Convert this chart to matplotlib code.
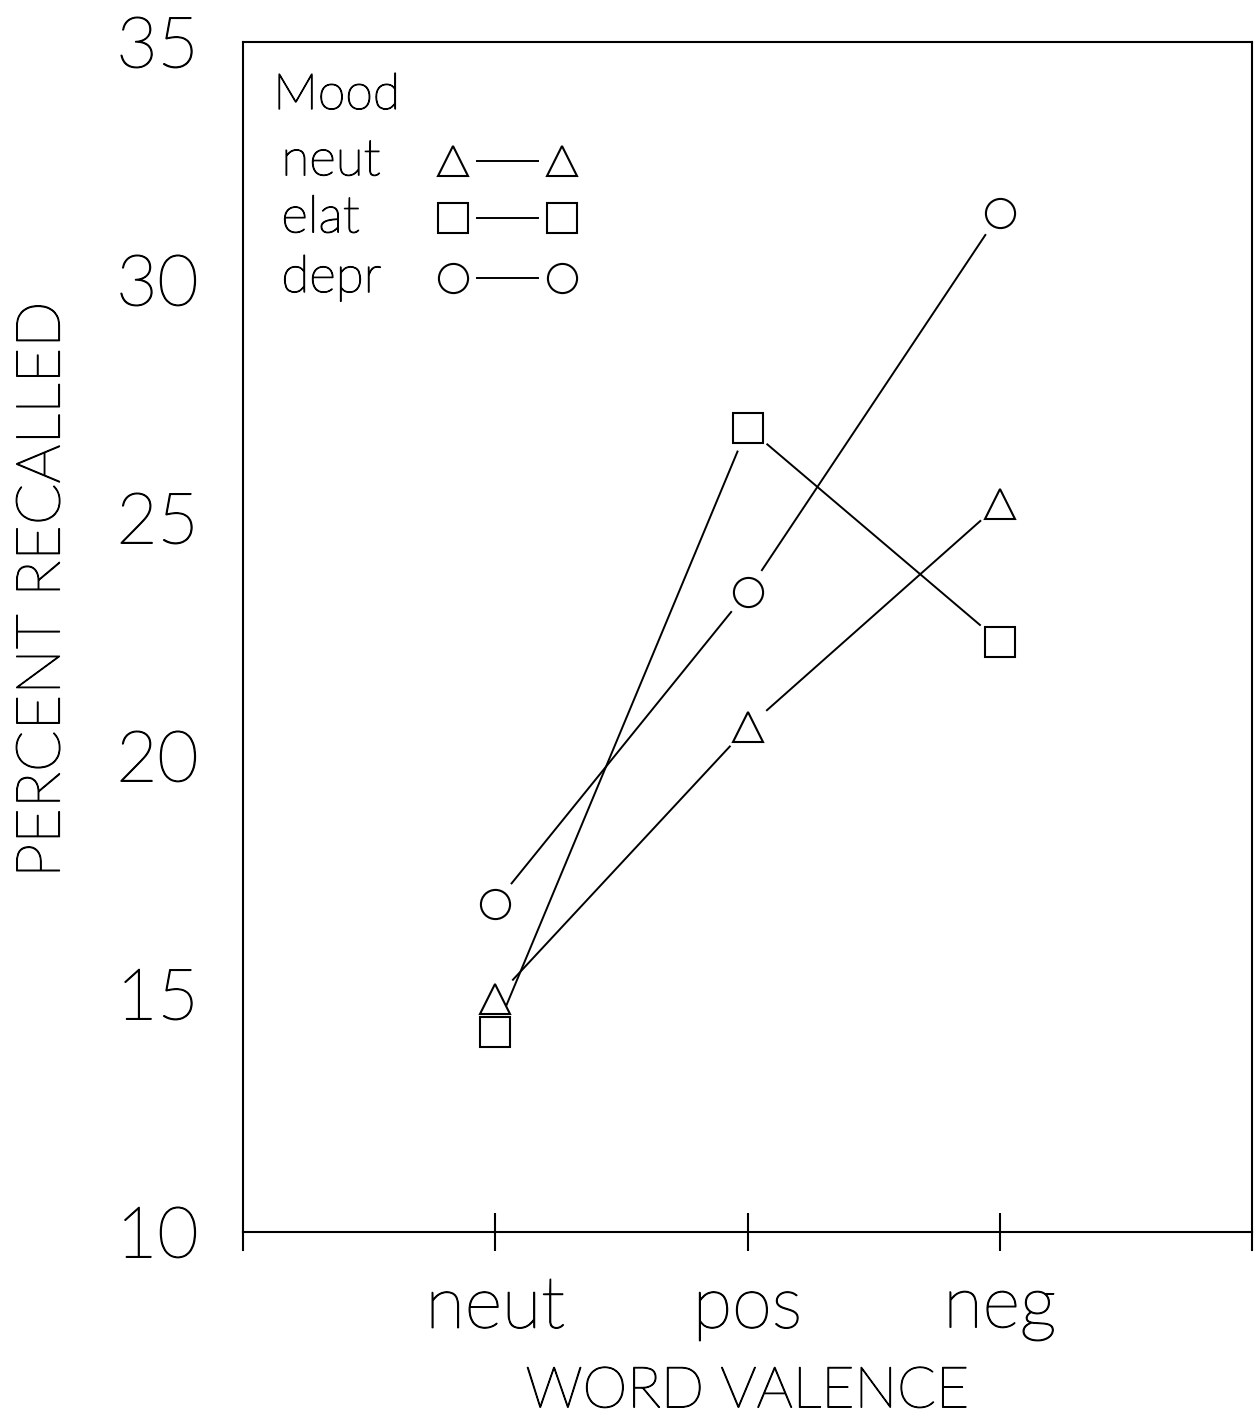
import numpy as np
import matplotlib.pyplot as plt
import matplotlib.patheffects as pe

# word valence categories on the x axis
valence = ["neut", "pos", "neg"]
x_pos = [1, 2, 3]

# percent recalled per mood group
neut_mood = [14.9, 20.6, 25.3]
elat_mood = [14.2, 26.9, 22.4]
depr_mood = [16.9, 23.45, 31.4]

moods = ["neut", "elat", "depr"]
series = [neut_mood, elat_mood, depr_mood]
markers = ["^", "s", "o"]
yticks = [10, 15, 20, 25, 30, 35]

FONT = "Lato"
DPI = 100
MS = 21
GAP = 25  # pixels between marker centre and line end
THICK = [pe.withStroke(linewidth=0.9, foreground="black")]


def gapped_line(ax, xs, ys, gap_px):
    pts = ax.transData.transform(np.column_stack([xs, ys]))
    inv = ax.transData.inverted()
    for p0, p1 in zip(pts[:-1], pts[1:]):
        d = p1 - p0
        u = d / np.hypot(*d)
        seg = inv.transform([p0 + u * gap_px, p1 - u * gap_px])
        ax.plot(seg[:, 0], seg[:, 1], color="black", lw=1.4, solid_capstyle="butt")


fig = plt.figure(figsize=(12.58, 14.2), dpi=DPI)
ax = fig.add_axes([243 / 1258, 188 / 1420, 1009 / 1258, 1190 / 1420])
ax.set_xlim(0, 4)
ax.set_ylim(10, 35)

for s in ax.spines.values():
    s.set_linewidth(1.5)
# left / right frame lines run a little below the x axis
for xa in (0, 1):
    ax.plot([xa, xa], [0, -0.015], transform=ax.transAxes, color="black",
            lw=1.5, clip_on=False)

for vals, mk in zip(series, markers):
    gapped_line(ax, x_pos, vals, GAP)
    ax.plot(x_pos, vals, linestyle="none", marker=mk, ms=MS, mfc="white",
            mec="black", mew=1.5, zorder=3)

ax.set_xticks(x_pos)
ax.set_xticklabels(valence, fontsize=52, fontfamily=FONT, fontweight="light")
ax.tick_params(axis="x", direction="inout", length=27, width=1.5, pad=18)
ax.set_yticks(yticks)
ax.set_yticklabels([str(t) for t in yticks], fontsize=51, fontfamily=FONT,
                   fontweight="light", va="center_baseline")
ax.tick_params(axis="y", length=0, pad=32)
for lab in ax.get_xticklabels() + ax.get_yticklabels():
    lab.set_path_effects(THICK)

ax.set_xlabel("WORD VALENCE", fontsize=41, fontfamily=FONT, fontweight="light",
              path_effects=THICK)
ax.xaxis.set_label_coords(0.5, -0.112)
ax.set_ylabel("PERCENT RECALLED", fontsize=44, fontfamily=FONT, fontweight="light",
              path_effects=THICK)
ax.yaxis.set_label_coords(-0.171, 0.54)

# hand-drawn legend in the upper left
tkw = dict(transform=ax.transAxes, fontfamily=FONT, fontweight="light",
           va="center", path_effects=THICK)
ax.text(0.03, 0.955, "Mood", fontsize=36, **tkw)
leg_y = [0.9, 0.852, 0.802]
for name, mk, ly in zip(moods, markers, leg_y):
    ax.text(0.038, ly, name, fontsize=37, **tkw)
    ax.plot([0.208, 0.316], [ly, ly], transform=ax.transAxes, linestyle="none",
            marker=mk, ms=MS, mfc="white", mec="black", mew=1.5)
    ax.plot([0.232, 0.292], [ly, ly], transform=ax.transAxes, color="black", lw=1.4)

fig.savefig("out.png", dpi=DPI)
